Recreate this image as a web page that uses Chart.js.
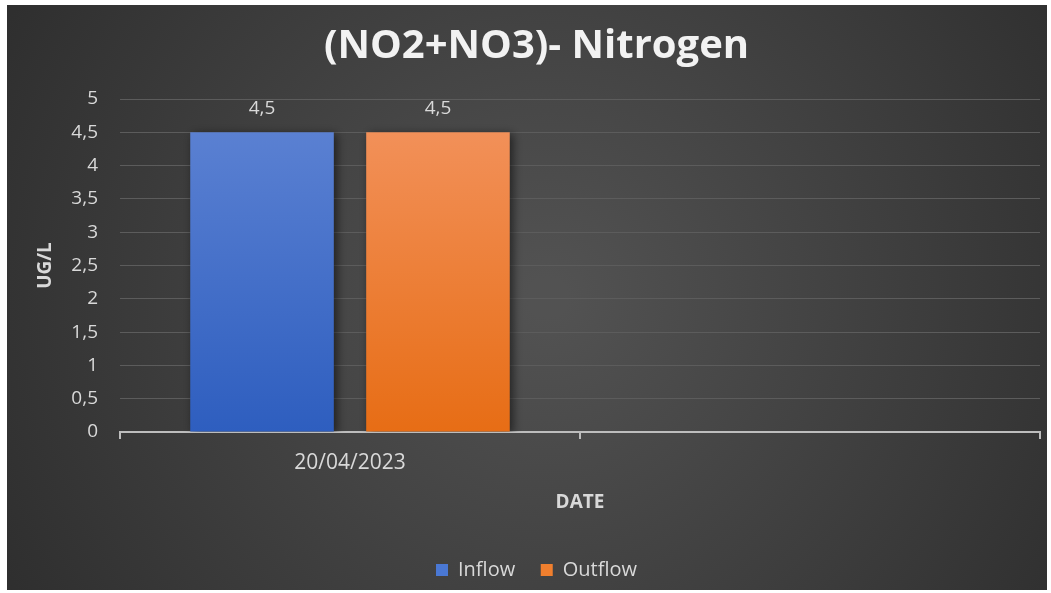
<!DOCTYPE html>
<html>
<head>
<meta charset="utf-8">
<script src="https://cdn.jsdelivr.net/npm/chart.js@4.4.1/dist/chart.umd.min.js"></script>
<style>
  html, body { margin: 0; padding: 0; background: #fff; }
  #wrap { position: absolute; left: 7px; top: 5px; width: 1040px; height: 585px; }
</style>
</head>
<body>
<div id="wrap"><canvas id="nitroChart"></canvas></div>
<script>
// chart values
const dates = ['20/04/2023', ''];
const inflow = [4.5, null];
const outflow = [4.5, null];
const yTickLabels = ['0', '0,5', '1', '1,5', '2', '2,5', '3', '3,5', '4', '4,5', '5'];

const FONT = "'Open Sans', 'Noto Sans', sans-serif";
const TXT = '#d9d9d9';

// dark radial background
const bgPlugin = {
  id: 'bg',
  beforeDraw(chart) {
    const { ctx, width, height } = chart;
    const g = ctx.createRadialGradient(width * 0.52, height * 0.5, 20, width * 0.52, height * 0.5, width * 0.6);
    g.addColorStop(0, '#525252');
    g.addColorStop(1, '#2e2e2e');
    ctx.save();
    ctx.fillStyle = g;
    ctx.fillRect(0, 0, width, height);
    ctx.restore();
  }
};

// soft shadow behind the bars
const shadowPlugin = {
  id: 'barShadow',
  beforeDatasetsDraw(chart) {
    const ctx = chart.ctx;
    ctx.save();
    ctx.shadowColor = 'rgba(0,0,0,0.55)';
    ctx.shadowBlur = 9;
    ctx.shadowOffsetX = 3;
    ctx.shadowOffsetY = 2;
  },
  afterDatasetsDraw(chart) {
    chart.ctx.restore();
  }
};

// value labels above bars
const valuePlugin = {
  id: 'values',
  afterDraw(chart) {
    const ctx = chart.ctx;
    ctx.save();
    ctx.font = '19px ' + FONT;
    ctx.fillStyle = TXT;
    ctx.textAlign = 'center';
    ctx.textBaseline = 'middle';
    chart.data.datasets.forEach((ds, i) => {
      chart.getDatasetMeta(i).data.forEach((bar, j) => {
        const v = ds.data[j];
        if (v == null) return;
        ctx.fillText(String(v).replace('.', ','), bar.x, bar.y - 24);
      });
    });
    ctx.restore();
  }
};

function grad(top, bottom) {
  return (c) => {
    const a = c.chart.chartArea;
    if (!a) return bottom;
    const g = c.chart.ctx.createLinearGradient(0, a.top, 0, a.bottom);
    g.addColorStop(0, top);
    g.addColorStop(1, bottom);
    return g;
  };
}

const ctx = document.getElementById('nitroChart').getContext('2d');

new Chart(ctx, {
  type: 'bar',
  data: {
    labels: dates,
    datasets: [
      {
        label: 'Inflow',
        data: inflow,
        backgroundColor: grad('#5f84d4', '#2e5ebf'),
        borderWidth: 0,
        barPercentage: 0.816,
        categoryPercentage: 0.765
      },
      {
        label: 'Outflow',
        data: outflow,
        backgroundColor: grad('#f39460', '#e76d15'),
        borderWidth: 0,
        barPercentage: 0.816,
        categoryPercentage: 0.765
      }
    ]
  },
  plugins: [bgPlugin, shadowPlugin, valuePlugin],
  options: {
    responsive: true,
    maintainAspectRatio: false,
    animation: false,
    layout: { padding: { left: 26, right: 7, top: 0, bottom: 0 } },
    plugins: {
      title: {
        display: true,
        text: '(NO2+NO3)- Nitrogen',
        color: '#f2f2f2',
        font: { family: FONT, size: 40, weight: 'bold' },
        padding: { top: 18, bottom: 28 }
      },
      legend: {
        position: 'bottom',
        labels: {
          color: TXT,
          font: { family: FONT, size: 20 },
          boxWidth: 12,
          boxHeight: 12,
          padding: 10,
          generateLabels(chart) {
            const n = chart.data.datasets.length;
            return chart.data.datasets.map((ds, i) => ({
              // a little extra room between the two entries
              text: i < n - 1 ? ds.label + '   ' : ds.label,
              fillStyle: i === 0 ? '#4a78d4' : '#f07f2e',
              strokeStyle: 'transparent',
              lineWidth: 0,
              fontColor: TXT,
              datasetIndex: i
            }));
          }
        }
      },
      tooltip: { enabled: false }
    },
    scales: {
      x: {
        grid: {
          display: true,
          offset: true,
          drawOnChartArea: false,
          drawTicks: true,
          tickLength: 7,
          color: '#bdbdbd',
          lineWidth: 2
        },
        border: { display: true, color: '#bdbdbd', width: 2 },
        ticks: {
          color: TXT,
          font: { family: FONT, size: 21 },
          padding: 11
        },
        title: {
          display: true,
          text: 'DATE',
          color: TXT,
          font: { family: FONT, size: 19, weight: 'bold' },
          padding: { top: 14, bottom: 36 }
        },
        afterFit(s) { s.height = 118; }
      },
      y: {
        min: 0,
        max: 5,
        ticks: {
          stepSize: 0.5,
          color: TXT,
          font: { family: FONT, size: 19 },
          padding: 22,
          callback: (v, i) => yTickLabels[i]
        },
        grid: {
          color: '#5c5c5c',
          lineWidth: 1,
          drawTicks: false
        },
        border: { display: false },
        title: {
          display: true,
          text: 'UG/L',
          color: TXT,
          font: { family: FONT, size: 19, weight: 'bold' },
          padding: { top: 1, bottom: 0 }
        },
        afterFit(s) { s.width = 87; }
      }
    }
  }
});
</script>
</body>
</html>
